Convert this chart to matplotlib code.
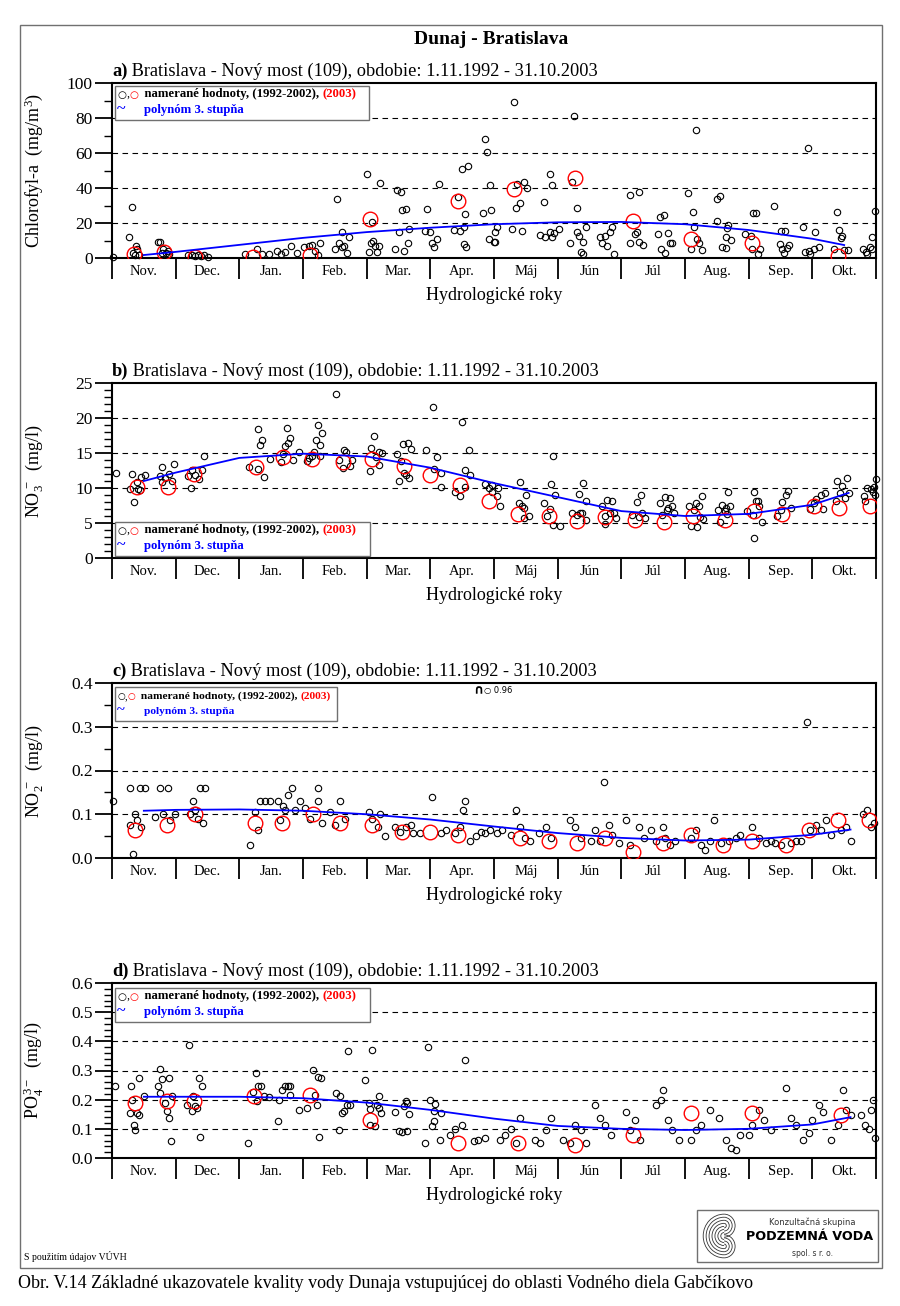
import matplotlib
matplotlib.use("Agg")
import matplotlib.pyplot as plt
from matplotlib.patches import Rectangle, Arc
from matplotlib.text import Annotation
import numpy as np

plt.rcParams['font.family'] = ['Liberation Serif', 'DejaVu Sans']
plt.rcParams['mathtext.fontset'] = 'custom'
plt.rcParams['mathtext.rm'] = 'Liberation Serif'
plt.rcParams['mathtext.it'] = 'Liberation Serif:italic'

# ---------------- data (x = month of hydrological year, 0 = 1. Nov.) ----------------
months = ['Nov.', 'Dec.', 'Jan.', 'Feb.', 'Mar.', 'Apr.', 'Máj', 'Jún', 'Júl', 'Aug.', 'Sep.', 'Okt.']

# a) Chlorofyl-a (mg/m3)
chl_old = [(0.02, 0.8), (0.26, 12), (0.32, 29), (0.33, 3), (0.38, 7), (0.40, 5), (0.42, 2), (0.36, 1.5),
           (0.72, 9), (0.76, 9), (0.78, 3), (0.80, 5), (0.85, 3), (0.90, 2.5), (0.88, 4),
           (1.20, 2), (1.25, 1.5), (1.30, 1), (1.35, 2), (1.40, 1), (1.45, 1.5), (1.50, 0.5),
           (2.09, 2.5), (2.27, 5.4), (2.35, 2.5), (2.46, 2.5), (2.59, 4), (2.65, 2.5), (2.72, 3.5),
           (2.81, 7), (2.90, 2.8), (3.02, 6.5), (3.09, 7), (3.14, 7.5), (3.19, 4), (3.24, 1.5), (3.27, 8.7),
           (3.53, 34), (3.51, 5.4), (3.56, 8.3), (3.62, 15.1), (3.61, 6.4), (3.65, 7), (3.69, 2.9), (3.72, 12.2),
           (4.01, 47.8), (4.21, 42.7), (4.03, 3.5), (4.07, 8.3), (4.10, 9.7), (4.13, 6.8), (4.16, 3.5), (4.19, 6.8),
           (4.09, 20.4), (4.48, 39), (4.54, 37.5), (4.55, 27.2), (4.61, 27.8), (4.51, 14.6), (4.67, 16.7),
           (4.45, 5.4), (4.58, 4.1), (4.65, 8.7),
           (4.94, 27.8), (5.13, 42.3), (4.91, 15.7), (5.00, 15.1), (5.03, 8.3), (5.06, 6.4), (5.10, 10.7),
           (5.50, 51), (5.59, 52.4), (5.43, 34.6), (5.55, 24.9), (5.37, 16.1), (5.47, 15.7), (5.53, 18),
           (5.53, 7.8), (5.56, 6.4), (5.86, 67.8), (5.89, 60.8), (5.93, 42), (5.83, 25.8), (5.96, 27.2),
           (5.92, 10.7), (6.00, 9.3),
           (6.31, 89), (6.36, 42.3), (6.47, 43.7), (6.52, 39.8), (6.41, 31.7), (6.35, 28.4), (6.28, 16.5),
           (6.44, 15.7), (6.02, 15.1), (6.05, 18), (6.02, 9.3), (6.73, 13.2), (6.80, 11.8), (6.88, 15.1),
           (6.94, 14.2), (6.91, 12.2), (7.02, 16.5), (6.88, 48), (6.91, 42), (6.78, 32.2),
           (7.26, 81), (7.22, 43.3), (7.30, 28.7), (7.20, 8.7), (7.30, 15.1), (7.33, 12.6), (7.40, 9.3),
           (7.37, 3.5), (7.40, 2.5), (7.44, 18), (7.66, 11.8), (7.70, 8.7), (7.75, 12.6), (7.78, 6.8),
           (7.82, 15.1), (7.86, 18), (7.89, 2.1),
           (8.14, 36), (8.27, 37.9), (8.21, 13.8), (8.24, 14.6), (8.14, 8.3), (8.27, 9.3), (8.34, 7.6),
           (8.57, 13.6), (8.63, 5), (8.69, 3.1), (8.73, 14.2), (8.77, 8.7), (8.80, 8.5), (8.60, 23.5), (8.67, 24.3),
           (9.17, 73), (9.04, 36.9), (9.13, 26.4), (9.14, 18), (9.19, 10.7), (9.22, 8.3), (9.26, 4.5), (9.09, 5.4),
           (9.51, 34), (9.55, 35.2), (9.50, 21.4), (9.68, 19), (9.66, 17), (9.58, 6.4), (9.65, 6),
           (9.64, 11.8), (9.72, 10.3),
           (10.07, 25.8), (10.11, 25.8), (9.95, 13.8), (10.03, 12.6), (10.06, 5.4), (10.15, 2.1), (10.18, 5.4),
           (10.40, 29.7), (10.50, 15.7), (10.57, 15.7), (10.49, 8), (10.53, 5.4), (10.60, 6), (10.56, 2.9),
           (10.63, 7.4), (10.93, 63),
           (10.86, 18), (11.04, 15.1), (10.89, 3.5), (10.94, 4.1), (10.97, 2.5), (11.02, 4.9), (11.10, 6.4),
           (11.39, 26.4), (11.42, 16.1), (11.45, 11.3), (11.47, 12.6), (11.34, 4.9), (11.50, 4.5), (11.56, 4.5),
           (11.79, 5.4), (11.84, 3.5), (11.86, 2.5), (11.90, 6.4), (11.94, 12.2), (11.93, 5.4), (11.99, 26.8)]
chl_2003 = [(0.35, 2.5), (0.82, 3.5), (1.30, 0.5), (2.22, 0.5), (3.11, 1.5), (4.06, 22.5), (5.43, 32.6),
            (6.31, 39.5), (7.27, 45.5), (8.18, 21), (9.09, 10.7), (10.05, 8.5), (11.40, 1)]
chl_fit_m = [0.5, 1, 2, 3, 4, 5, 6, 7, 8, 9, 10, 11, 11.5]
chl_fit_v = [1.7, 3.5, 7.5, 11.5, 14.8, 17.3, 19.3, 20.4, 20.6, 19.3, 16, 11, 7.4]

# b) NO3- (mg/l)
no3_old = [(0.06, 12.2), (0.32, 12), (0.28, 9.9), (0.35, 8), (0.39, 10.8), (0.41, 9.8), (0.46, 11.6), (0.44, 9.7),
           (0.52, 11.8), (0.78, 13), (0.75, 11.7), (0.78, 10.9), (0.84, 11.4), (0.89, 12), (0.98, 13.4), (0.94, 11),
           (1.24, 10), (1.20, 11.7), (1.26, 12.6), (1.30, 11.9), (1.36, 11.3), (1.41, 12.6), (1.44, 14.6),
           (2.15, 13), (2.29, 18.5), (2.33, 16.2), (2.35, 16.8), (2.30, 12.7), (2.39, 11.6), (2.48, 14.1),
           (2.75, 18.6), (2.80, 17.1), (2.76, 16.4), (2.72, 16), (2.66, 13.7), (2.69, 14.8), (2.85, 14), (2.93, 15.2),
           (3.06, 13.8), (3.10, 14.3), (3.14, 14.6), (3.17, 15.1), (3.24, 19), (3.30, 17.9), (3.20, 16.9),
           (3.27, 16.1), (3.27, 14.6),
           (3.52, 23.5), (3.65, 15.5), (3.67, 15.2), (3.56, 14), (3.63, 12.8), (3.74, 13.2), (3.77, 14),
           (4.06, 12.5), (4.07, 15.7), (4.11, 17.4), (4.15, 14.5), (4.19, 15.2), (4.19, 13.3), (4.24, 15),
           (4.48, 14.8), (4.51, 11), (4.57, 16.3), (4.65, 16.4), (4.70, 15.6), (4.54, 13.8), (4.58, 12.2),
           (4.61, 11.8), (4.67, 11.5),
           (4.93, 15.4), (5.04, 21.6), (5.10, 14.4), (5.05, 12.7), (5.16, 10.2), (5.16, 12.2),
           (5.39, 9.5), (5.46, 8.8), (5.50, 19.5), (5.60, 15.4), (5.55, 12.6), (5.54, 10.1), (5.63, 11.9),
           (5.86, 10.6), (5.92, 10), (5.97, 10.5), (5.97, 9.5),
           (6.07, 10), (6.05, 8.8), (6.09, 7.4), (6.41, 10.9), (6.51, 9), (6.39, 7.9), (6.44, 7.4), (6.47, 7.1),
           (6.55, 6), (6.47, 5.7), (6.78, 7.9), (6.90, 10.6), (6.96, 9), (6.93, 14.6), (6.88, 7), (6.83, 6),
           (6.93, 4.7), (7.03, 4.6),
           (7.23, 6.4), (7.30, 6.2), (7.35, 6.4), (7.38, 6.5), (7.33, 9.1), (7.40, 10.7), (7.44, 8.2), (7.45, 5.5),
           (7.69, 7.5), (7.78, 8.3), (7.86, 8.2), (7.75, 6), (7.82, 6.4), (7.89, 6.5), (7.91, 5.7), (7.75, 4.8),
           (8.25, 8), (8.31, 9), (8.17, 6.2), (8.33, 6.5), (8.37, 5.7), (8.27, 5.8),
           (8.60, 7.9), (8.69, 8.7), (8.77, 8.6), (8.74, 7.1), (8.80, 7.5), (8.71, 6.9), (8.83, 6.4), (8.64, 6.2),
           (9.07, 7.4), (9.17, 7.8), (9.22, 7.4), (9.26, 8.8), (9.14, 6.8), (9.23, 5.9), (9.29, 5.6),
           (9.09, 4.6), (9.19, 4.5),
           (9.52, 6.9), (9.58, 7.6), (9.67, 9.4), (9.71, 7.4), (9.64, 7.1), (9.63, 6.7), (9.55, 5.1), (9.66, 6.3),
           (9.98, 6.7), (10.08, 9.4), (10.11, 8.1), (10.14, 8.2), (10.16, 7.4), (10.07, 6.2), (10.21, 5.1),
           (10.08, 2.9),
           (10.44, 6), (10.50, 6.8), (10.53, 8), (10.58, 9), (10.62, 9.6), (10.66, 7.2),
           (10.97, 7), (11.02, 7.8), (11.06, 8.5), (11.13, 9), (11.20, 9.3), (11.16, 7),
           (11.39, 11), (11.47, 10.3), (11.55, 11.4), (11.44, 9.3), (11.52, 8.6), (11.57, 9.3), (11.37, 8.1),
           (11.81, 8.8), (11.86, 10), (11.92, 9.8), (11.95, 9.5), (11.97, 10.1), (12.0, 11.3), (11.99, 9),
           (11.83, 8.1)]
no3_2003 = [(0.40, 10.2), (0.88, 10.2), (1.29, 12.0), (2.26, 13), (2.68, 14.5), (3.14, 14.2), (3.63, 13.7),
            (4.08, 14.1), (4.58, 13.1), (5.00, 11.8), (5.47, 10.4), (5.92, 8.1), (6.38, 6.3), (6.86, 6),
            (7.30, 5.3), (7.75, 5.8), (8.21, 5.5), (8.67, 5.1), (9.13, 6), (9.63, 5.5), (10.08, 6.7),
            (10.53, 6.3), (11.03, 7.4), (11.42, 7.2), (11.90, 7.4)]
no3_fit_m = [0.5, 1, 2, 3, 4, 5, 6, 7, 8, 9, 10, 11, 11.57]
no3_fit_v = [11.0, 12.2, 14.3, 14.9, 14.5, 12.9, 10.7, 8.7, 6.7, 6.0, 6.3, 7.6, 9.3]

# c) NO2- (mg/l)
no2_old = [(0.02, 0.13), (0.28, 0.16), (0.28, 0.075), (0.33, 0.01), (0.36, 0.1), (0.40, 0.087), (0.44, 0.16),
           (0.52, 0.16), (0.75, 0.16), (0.88, 0.16), (0.80, 0.1), (0.68, 0.094), (0.91, 0.087), (0.99, 0.1),
           (0.45, 0.07),
           (1.27, 0.13), (1.30, 0.11), (1.38, 0.16), (1.46, 0.16), (1.23, 0.1), (1.35, 0.09), (1.43, 0.08),
           (2.17, 0.03), (2.25, 0.105), (2.33, 0.13), (2.40, 0.13), (2.48, 0.13), (2.30, 0.064),
           (2.64, 0.087), (2.69, 0.12), (2.77, 0.145), (2.83, 0.16), (2.61, 0.13), (2.72, 0.11), (2.88, 0.11),
           (2.96, 0.13),
           (3.03, 0.115), (3.11, 0.09), (3.24, 0.13), (3.24, 0.16), (3.30, 0.08), (3.43, 0.105), (3.58, 0.13),
           (3.66, 0.09), (3.50, 0.075),
           (4.03, 0.105), (4.09, 0.09), (4.18, 0.07), (4.21, 0.1), (4.29, 0.05), (4.45, 0.07), (4.53, 0.06),
           (4.61, 0.07), (4.69, 0.075), (4.72, 0.057), (4.84, 0.057),
           (5.03, 0.14), (5.16, 0.057), (5.24, 0.064), (5.39, 0.057), (5.47, 0.07), (5.52, 0.11), (5.55, 0.13),
           (5.63, 0.04), (5.71, 0.05), (5.79, 0.06), (5.86, 0.057), (5.94, 0.065),
           (6.05, 0.057), (6.13, 0.064), (6.26, 0.052), (6.34, 0.11), (6.41, 0.07), (6.49, 0.045), (6.57, 0.04),
           (6.70, 0.057), (6.81, 0.07), (6.89, 0.045),
           (7.20, 0.087), (7.28, 0.07), (7.36, 0.045), (7.52, 0.04), (7.59, 0.064), (7.67, 0.04), (7.72, 0.174),
           (7.80, 0.075), (7.86, 0.052), (7.96, 0.034),
           (8.07, 0.087), (8.14, 0.03), (8.27, 0.07), (8.35, 0.045), (8.46, 0.064), (8.54, 0.04), (8.65, 0.07),
           (8.69, 0.045), (8.77, 0.03), (8.85, 0.04),
           (9.09, 0.045), (9.17, 0.064), (9.25, 0.03), (9.32, 0.018), (9.40, 0.04), (9.45, 0.087), (9.56, 0.034),
           (9.69, 0.04), (9.80, 0.045), (9.87, 0.052),
           (10.06, 0.07), (10.16, 0.045), (10.27, 0.034), (10.35, 0.04), (10.42, 0.034), (10.50, 0.03),
           (10.66, 0.034), (10.74, 0.04),
           (10.91, 0.31), (10.82, 0.04), (10.97, 0.064), (11.05, 0.075), (11.13, 0.065), (11.21, 0.087),
           (11.29, 0.052), (11.45, 0.064), (11.53, 0.07), (11.60, 0.04),
           (11.79, 0.1), (11.86, 0.11), (11.92, 0.07), (11.97, 0.08)]
no2_2003 = [(0.36, 0.064), (0.86, 0.075), (1.30, 0.1), (2.25, 0.08), (2.67, 0.08), (3.16, 0.1), (3.58, 0.08),
            (4.09, 0.075), (4.56, 0.06), (5.00, 0.06), (5.44, 0.052), (6.41, 0.045), (6.86, 0.04),
            (7.31, 0.034), (7.75, 0.045), (8.18, 0.014), (8.65, 0.034), (9.09, 0.052), (9.59, 0.03),
            (10.06, 0.04), (10.58, 0.03), (10.94, 0.064), (11.41, 0.087), (11.89, 0.087)]
no2_offscale = (5.83, 0.96)
no2_fit_m = [0.5, 1, 2, 3, 4, 5, 6, 7, 8, 9, 10, 11, 11.6]
no2_fit_v = [0.108, 0.11, 0.111, 0.108, 0.1, 0.088, 0.072, 0.057, 0.046, 0.040, 0.042, 0.053, 0.065]

# d) PO4 3- (mg/l)
po4_old = [(0.04, 0.246), (0.30, 0.246), (0.28, 0.154), (0.31, 0.2), (0.34, 0.112), (0.36, 0.095), (0.39, 0.154),
           (0.43, 0.149), (0.43, 0.274), (0.50, 0.214),
           (0.73, 0.246), (0.76, 0.305), (0.76, 0.223), (0.79, 0.271), (0.83, 0.189), (0.86, 0.162), (0.89, 0.274),
           (0.90, 0.137), (0.93, 0.059), (0.95, 0.214),
           (1.18, 0.183), (1.21, 0.389), (1.25, 0.16), (1.28, 0.211), (1.30, 0.177), (1.33, 0.171), (1.36, 0.274),
           (1.38, 0.071), (1.41, 0.246),
           (2.13, 0.051), (2.22, 0.225), (2.26, 0.291), (2.27, 0.194), (2.30, 0.246), (2.34, 0.246), (2.38, 0.214),
           (2.46, 0.208),
           (2.60, 0.126), (2.63, 0.2), (2.67, 0.232), (2.72, 0.246), (2.76, 0.246), (2.80, 0.246), (2.79, 0.217),
           (2.93, 0.163),
           (3.06, 0.171), (3.16, 0.301), (3.19, 0.217), (3.24, 0.278), (3.28, 0.274), (3.22, 0.183), (3.25, 0.072),
           (3.52, 0.223), (3.56, 0.095), (3.58, 0.211), (3.61, 0.154), (3.64, 0.16), (3.69, 0.183), (3.71, 0.368),
           (3.74, 0.183),
           (3.98, 0.269), (4.06, 0.112), (4.09, 0.369), (4.04, 0.189), (4.05, 0.168), (4.13, 0.109), (4.16, 0.183),
           (4.19, 0.214), (4.20, 0.171), (4.23, 0.154),
           (4.45, 0.157), (4.50, 0.091), (4.55, 0.088), (4.58, 0.177), (4.61, 0.194), (4.63, 0.091), (4.64, 0.189),
           (4.67, 0.152),
           (4.91, 0.051), (4.96, 0.381), (5.00, 0.2), (5.02, 0.109), (5.05, 0.16), (5.05, 0.126), (5.08, 0.186),
           (5.15, 0.063), (5.16, 0.154),
           (5.31, 0.079), (5.39, 0.1), (5.50, 0.113), (5.55, 0.337), (5.75, 0.062), (5.86, 0.069), (5.68, 0.06),
           (6.10, 0.062), (6.18, 0.079), (6.26, 0.1), (6.34, 0.051), (6.41, 0.137), (6.65, 0.062), (6.73, 0.051),
           (6.81, 0.096), (6.89, 0.137),
           (7.09, 0.062), (7.20, 0.051), (7.28, 0.113), (7.36, 0.096), (7.44, 0.05), (7.59, 0.182), (7.67, 0.137),
           (7.75, 0.113), (7.83, 0.079),
           (8.07, 0.158), (8.14, 0.096), (8.22, 0.13), (8.30, 0.062), (8.54, 0.182), (8.62, 0.2), (8.65, 0.233),
           (8.74, 0.13), (8.80, 0.096), (8.90, 0.062),
           (9.09, 0.062), (9.17, 0.096), (9.25, 0.113), (9.40, 0.165), (9.53, 0.137), (9.64, 0.062), (9.72, 0.034),
           (9.80, 0.027), (9.87, 0.079),
           (10.00, 0.079), (10.06, 0.113), (10.16, 0.165), (10.24, 0.13), (10.35, 0.096), (10.58, 0.24),
           (10.66, 0.137), (10.74, 0.113),
           (10.86, 0.062), (10.94, 0.086), (11.00, 0.13), (11.10, 0.182), (11.16, 0.158), (11.29, 0.062),
           (11.41, 0.113), (11.48, 0.233), (11.53, 0.165), (11.60, 0.147),
           (11.76, 0.147), (11.82, 0.113), (11.89, 0.1), (11.92, 0.165), (11.95, 0.2), (11.99, 0.069)]
po4_2003 = [(0.36, 0.189), (0.86, 0.194), (1.29, 0.194), (2.23, 0.214), (3.11, 0.217), (4.05, 0.129),
            (5.44, 0.05), (6.37, 0.05), (7.28, 0.045), (8.18, 0.079), (9.09, 0.154), (10.06, 0.154),
            (11.45, 0.147)]
po4_fit_m = [0.5, 1, 2, 3, 4, 5, 6, 7, 8, 9, 10, 11, 11.6]
po4_fit_v = [0.21, 0.21, 0.21, 0.205, 0.19, 0.165, 0.135, 0.11, 0.10, 0.096, 0.10, 0.115, 0.14]

# ---------------- layout helpers (pixel positions of the 900x1306 page) ----------------
W, H = 900, 1306


def fx(x):
    return x / W


def fy(y):
    return 1 - y / H


fig = plt.figure(figsize=(9, 13.06), dpi=100)
fig.patch.set_facecolor('white')


def chain(prev, s, **kw):
    # place text right after the previous text artist (figure level)
    a = Annotation(s, xy=(1, 0), xycoords=prev, ha='left', va='bottom', **kw)
    fig.add_artist(a)
    return a


# page frame
fig.add_artist(Rectangle((fx(20), fy(1268)), fx(862), (1268 - 25) / H, transform=fig.transFigure,
                         fill=False, edgecolor='#707070', lw=1.0))

fig.text(fx(491), fy(40), 'Dunaj - Bratislava', ha='center', va='center', fontsize=14, fontweight='bold')

panels = [
    dict(tag='a)', top=83, old=chl_old, new=chl_2003, fm=chl_fit_m, fv=chl_fit_v, ylim=(0, 100),
         major=np.arange(0, 101, 20), minor=np.arange(0, 101, 10), fmt='{:.0f}',
         ylabel='Chlorofyl-a  (mg/m$^3$)', leg_y=86, leg_w=254),
    dict(tag='b)', top=383, old=no3_old, new=no3_2003, fm=no3_fit_m, fv=no3_fit_v, ylim=(0, 25),
         major=np.arange(0, 26, 5), minor=np.arange(0, 26, 1), fmt='{:.0f}',
         ylabel='NO$_3^{\\,-}$  (mg/l)', leg_y=522, leg_w=255),
    dict(tag='c)', top=683, old=no2_old, new=no2_2003, fm=no2_fit_m, fv=no2_fit_v, ylim=(0, 0.4),
         major=np.arange(0, 0.41, 0.1), minor=np.arange(0, 0.41, 0.05), fmt='{:.1f}',
         ylabel='NO$_2^{\\,-}$  (mg/l)', leg_y=687, leg_w=222),
    dict(tag='d)', top=983, old=po4_old, new=po4_2003, fm=po4_fit_m, fv=po4_fit_v, ylim=(0, 0.6),
         major=np.arange(0, 0.61, 0.1), minor=np.arange(0, 0.61, 0.02), fmt='{:.1f}',
         ylabel='PO$_4^{\\,3-}$  (mg/l)', leg_y=988, leg_w=255),
]

AX_L, AX_W, AX_H = 112, 764, 175

for p in panels:
    bottom = p['top'] + AX_H
    ax = fig.add_axes([fx(AX_L), fy(bottom), AX_W / W, AX_H / H])
    ax.set_xlim(0, 12)
    ax.set_ylim(*p['ylim'])

    for g in p['major'][1:-1]:
        ax.axhline(g, color='black', lw=0.8, ls=(0, (5, 4)), zorder=1)

    om, ov = zip(*p['old'])
    ax.plot(om, ov, 'o', ms=4.6, mfc='none', mec='black', mew=0.8, zorder=3, clip_on=False)
    nm, nv = zip(*p['new'])
    ax.plot(nm, nv, 'o', ms=10.5, mfc='none', mec='#ff0000', mew=1.0, zorder=4)
    ax.plot(p['fm'], p['fv'], color='#0000ff', lw=1.3, zorder=5)

    ax.set_xticks(range(13))
    ax.set_xticklabels([])
    ax.set_xticks(np.arange(0.5, 12, 1), minor=True)
    ax.set_xticklabels(months, minor=True, fontsize=10.5)
    ax.tick_params(axis='x', which='major', direction='out', length=15, width=1.3)
    ax.tick_params(axis='x', which='minor', length=0, pad=5)

    ax.set_yticks(p['major'])
    ax.set_yticklabels([p['fmt'].format(v) for v in p['major']], fontsize=12.5)
    ax.set_yticks(p['minor'], minor=True)
    ax.tick_params(axis='y', which='major', direction='out', length=12, width=1.3, pad=2)
    ax.tick_params(axis='y', which='minor', direction='out', length=6, width=1.0)
    for s in ax.spines.values():
        s.set_linewidth(1.5)

    ax.set_xlabel('Hydrologické roky', fontsize=13)
    ax.xaxis.set_label_coords(0.5, -(287 - 258) / AX_H)
    ax.set_ylabel(p['ylabel'], fontsize=13)
    ax.yaxis.set_label_coords(-(112 - 45) / AX_W, 0.5)

    # panel title: bold tag + normal text
    t = fig.text(fx(112), fy(p['top'] - 3), p['tag'], fontsize=13.2, fontweight='bold', ha='left', va='bottom')
    chain(t, ' Bratislava - Nový most (109), obdobie: 1.11.1992 - 31.10.2003', fontsize=13.2)

    # legend box
    ly = p['leg_y']
    lx = 115
    fig.add_artist(Rectangle((fx(lx), fy(ly + 34)), p['leg_w'] / W, 34 / H, transform=fig.transFigure,
                             facecolor='white', edgecolor='#707070', lw=1.0, zorder=6))
    fs = 8.6 if p['tag'] != 'c)' else 7.6
    t1 = fig.text(fx(lx + 2), fy(ly + 14), '○', color='black', fontsize=fs - 1.2,
                  family='DejaVu Sans', va='bottom', zorder=7)
    t2 = chain(t1, ',', fontsize=fs, zorder=7)
    t3 = chain(t2, '○', color='#ff0000', fontsize=fs - 1.2, family='DejaVu Sans', zorder=7)
    t4 = chain(t3, '  namerané hodnoty, (1992-2002), ', fontsize=fs + 0.6, fontweight='bold', zorder=7)
    chain(t4, '(2003)', color='#ff0000', fontsize=fs + 0.6, fontweight='bold', zorder=7)
    fig.text(fx(lx + 2), fy(ly + 27), '~', color='#0000ff', fontsize=fs + 3, fontweight='bold',
             va='baseline', zorder=7)
    fig.text(fx(lx + 29), fy(ly + 27), 'polynóm 3. stupňa', color='#0000ff', fontsize=fs + 0.6,
             fontweight='bold', va='baseline', zorder=7)

    if p['tag'] == 'c)':
        om_x, om_v = no2_offscale
        px = AX_L + om_x / 12 * AX_W
        fig.text(fx(px - 5), fy(691), '∩', fontsize=9, fontweight='bold', family='DejaVu Sans',
                 ha='center', va='center')
        fig.text(fx(px + 1), fy(690), '○ ' + f'{om_v:.2f}', fontsize=6, family='DejaVu Sans',
                 ha='left', va='center')

# footer note
fig.text(fx(24), fy(1257), 'S použitím údajov VÚVH', fontsize=7, ha='left', va='center')

# logo box
fig.add_artist(Rectangle((fx(697), fy(1262)), (878 - 697) / W, 52 / H, transform=fig.transFigure,
                         fill=False, edgecolor='#707070', lw=1.0))
lax = fig.add_axes([fx(701), fy(1259), 44 / W, 46 / H])
lax.set_xlim(-1, 1)
lax.set_ylim(-1, 1)
lax.axis('off')
for r in np.linspace(0.15, 0.95, 7):
    lax.add_patch(Arc((0.05, 0.0), 2 * r, 2 * r, theta1=90, theta2=270, color='#333333', lw=0.6))
for r in np.linspace(0.1, 0.5, 4):
    lax.add_patch(Arc((0.05, 0.45), 2 * r, 2 * r, theta1=-90, theta2=90, color='#333333', lw=0.6))
    lax.add_patch(Arc((0.05, -0.45), 2 * r, 2 * r, theta1=-90, theta2=90, color='#333333', lw=0.6))
fig.text(fx(812), fy(1222), 'Konzultačná skupina', fontsize=6, family='DejaVu Sans', ha='center',
         va='center', color='#333333')
fig.text(fx(810), fy(1237), 'PODZEMNÁ VODA', fontsize=9.2, family='DejaVu Sans', fontweight='bold',
         ha='center', va='center')
fig.text(fx(812), fy(1253), 'spol. s r. o.', fontsize=5.5, family='DejaVu Sans', ha='center',
         va='center', color='#333333')

# caption
fig.text(fx(18), fy(1284), 'Obr. V.14 Základné ukazovatele kvality vody Dunaja vstupujúcej do oblasti '
         'Vodného diela Gabčíkovo', fontsize=13, ha='left', va='center')

fig.savefig('out.png', dpi=100)
